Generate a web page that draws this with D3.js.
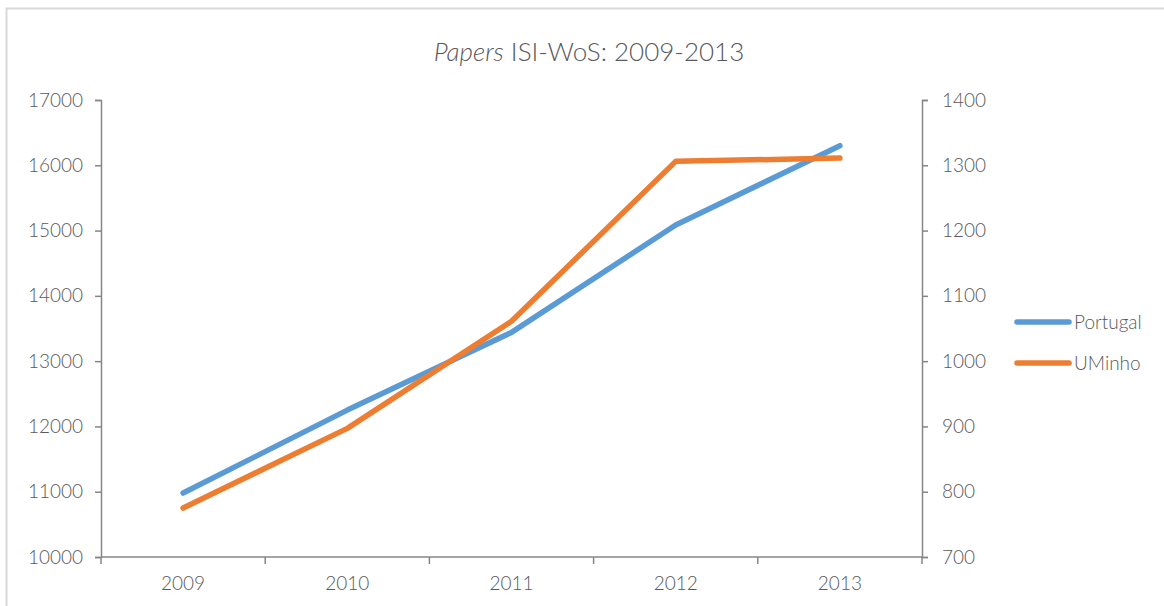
<!DOCTYPE html>
<meta charset="utf-8">
<style>
  body { margin: 0; background: #fff; }
  svg text { font-family: Lato, "Liberation Sans", sans-serif; font-weight: 300; fill: #595959; }
</style>
<svg width="1164" height="606"></svg>
<script src="https://d3js.org/d3.v7.min.js"></script>
<script>

var years = ["2009", "2010", "2011", "2012", "2013"];
var portugal = [10980, 12250, 13440, 15085, 16300];
var uminho = [775, 897, 1061, 1306, 1311];
var leftTicks = [10000, 11000, 12000, 13000, 14000, 15000, 16000, 17000];
var rightTicks = [700, 800, 900, 1000, 1100, 1200, 1300, 1400];

var svg = d3.select("svg"),
    margin = {top: 100, left: 101, right: 242, bottom: 49},
    width = 1164 - margin.left - margin.right,
    height = 606 - margin.top - margin.bottom;

// chart border
svg.append("rect")
    .attr("x", 6.5).attr("y", 8.5)
    .attr("width", 1200).attr("height", 700)
    .attr("fill", "none")
    .attr("stroke", "#d9d9d9")
    .attr("stroke-width", 2);

var title = svg.append("text")
    .attr("x", 589).attr("y", 61)
    .attr("text-anchor", "middle")
    .style("font-size", "26px");
title.append("tspan").style("font-style", "italic").text("Papers");
title.append("tspan").text(" ISI-WoS: 2009-2013");

var g = svg.append("g").attr("transform", "translate(" + margin.left + "," + margin.top + ")");

var x = d3.scaleBand().domain(years).range([0, width]);
var yL = d3.scaleLinear().domain([10000, 17000]).range([height, 0]);
var yR = d3.scaleLinear().domain([700, 1400]).range([height, 0]);

function styleAxis(sel) {
  sel.selectAll("path, line").attr("stroke", "#868686").attr("stroke-width", 1.5);
  sel.selectAll("text").style("font-size", "19px").attr("fill", "#595959");
}

g.append("g")
    .call(d3.axisLeft(yL).tickValues(leftTicks).tickFormat(d3.format("d")).tickSize(6).tickSizeOuter(6).tickPadding(12))
    .call(styleAxis);

g.append("g")
    .attr("transform", "translate(" + width + ",0)")
    .call(d3.axisRight(yR).tickValues(rightTicks).tickFormat(d3.format("d")).tickSize(6).tickSizeOuter(6).tickPadding(14))
    .call(styleAxis);

// bottom axis with ticks at band edges
var xAxis = g.append("g").attr("transform", "translate(0," + height + ")");
xAxis.append("line")
    .attr("x1", 0).attr("x2", width)
    .attr("stroke", "#868686").attr("stroke-width", 1.5);
xAxis.selectAll(".edge")
    .data(years.concat(["end"]))
    .enter().append("line")
    .attr("x1", function(d, i) { return i * x.bandwidth(); })
    .attr("x2", function(d, i) { return i * x.bandwidth(); })
    .attr("y1", 0).attr("y2", 7)
    .attr("stroke", "#868686").attr("stroke-width", 1.5);
xAxis.selectAll(".lbl")
    .data(years)
    .enter().append("text")
    .attr("x", function(d) { return x(d) + x.bandwidth() / 2; })
    .attr("y", 33)
    .attr("text-anchor", "middle")
    .style("font-size", "19px")
    .text(function(d) { return d; });

var lineL = d3.line()
    .x(function(d, i) { return x(years[i]) + x.bandwidth() / 2; })
    .y(function(d) { return yL(d); });
var lineR = d3.line()
    .x(function(d, i) { return x(years[i]) + x.bandwidth() / 2; })
    .y(function(d) { return yR(d); });

g.append("path").datum(portugal)
    .attr("d", lineL)
    .attr("fill", "none").attr("stroke", "#5B9BD5")
    .attr("stroke-width", 5.5).attr("stroke-linecap", "round").attr("stroke-linejoin", "round");

g.append("path").datum(uminho)
    .attr("d", lineR)
    .attr("fill", "none").attr("stroke", "#ED7D31")
    .attr("stroke-width", 5.5).attr("stroke-linecap", "round").attr("stroke-linejoin", "round");

// legend
var legend = svg.append("g").attr("transform", "translate(1017,322)");
[["Portugal", "#5B9BD5"], ["UMinho", "#ED7D31"]].forEach(function(s, i) {
  var row = legend.append("g").attr("transform", "translate(0," + (i * 41) + ")");
  row.append("line")
      .attr("x1", 0).attr("x2", 52)
      .attr("stroke", s[1]).attr("stroke-width", 5.5).attr("stroke-linecap", "round");
  row.append("text")
      .attr("x", 57).attr("y", 7)
      .style("font-size", "19px")
      .text(s[0]);
});

</script>
